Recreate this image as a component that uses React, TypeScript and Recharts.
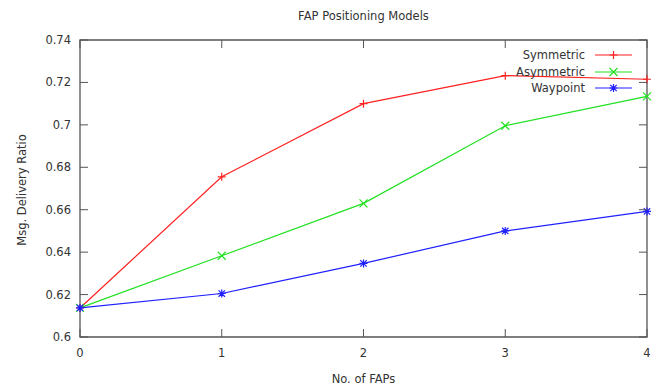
import { LineChart, Line, XAxis, YAxis, ReferenceArea, Legend, Label } from "recharts";

const fapCounts = [0, 1, 2, 3, 4];
const symmetric = [0.6137, 0.6755, 0.7100, 0.7232, 0.7215];
const asymmetric = [0.6137, 0.6383, 0.6630, 0.6996, 0.7134];
const waypoint = [0.6137, 0.6205, 0.6347, 0.6500, 0.6592];
const xTicks = [0, 1, 2, 3, 4];
const yTicks = [0.6, 0.62, 0.64, 0.66, 0.68, 0.7, 0.72, 0.74];

const W = 661;
const H = 390;
const PLOT_LEFT = 80;
const PLOT_RIGHT = 647;
const PLOT_TOP = 40;
const PLOT_BOTTOM = 337;
const TICK_LEN = 8;
const FONT = "'DejaVu Sans', Verdana, sans-serif";
const FS = 11.5;
const TEXT = "#333";
const FRAME = "#555";

const series = [
  { key: "symmetric", name: "Symmetric", color: "#ff2020", marker: "plus" },
  { key: "asymmetric", name: "Asymmetric", color: "#22e022", marker: "cross" },
  { key: "waypoint", name: "Waypoint", color: "#2020ff", marker: "star" },
];

const data = fapCounts.map((n, i) => ({
  n,
  symmetric: symmetric[i],
  asymmetric: asymmetric[i],
  waypoint: waypoint[i],
}));

function markerPath(kind: string, cx: number, cy: number) {
  const s = 4;
  const d = 3.2;
  const plus = `M${cx - s},${cy}H${cx + s}M${cx},${cy - s}V${cy + s}`;
  const cross = `M${cx - d},${cy - d}L${cx + d},${cy + d}M${cx - d},${cy + d}L${cx + d},${cy - d}`;
  if (kind === "plus") return plus;
  if (kind === "cross") return `M${cx - 4},${cy - 4}L${cx + 4},${cy + 4}M${cx - 4},${cy + 4}L${cx + 4},${cy - 4}`;
  return plus + cross;
}

function makeDot(kind: string, color: string) {
  return (p: any) => {
    if (p.cx == null || p.cy == null) return <g key={p.key} />;
    return <path key={p.key} d={markerPath(kind, p.cx, p.cy)} stroke={color} strokeWidth={1.2} fill="none" />;
  };
}

const XTick = (p: any) => {
  const { x, y, payload } = p;
  return (
    <g>
      <text x={x} y={y} dy="0.71em" textAnchor="middle" fontSize={FS} fill={TEXT} fontFamily={FONT}>
        {payload.value}
      </text>
      <line x1={x} x2={x} y1={PLOT_BOTTOM} y2={PLOT_BOTTOM - TICK_LEN} stroke={FRAME} />
      <line x1={x} x2={x} y1={PLOT_TOP} y2={PLOT_TOP + TICK_LEN} stroke={FRAME} />
    </g>
  );
};

const YTick = (p: any) => {
  const { x, y, payload } = p;
  return (
    <g>
      <text x={x} y={y} dy="0.35em" textAnchor="end" fontSize={FS} fill={TEXT} fontFamily={FONT}>
        {payload.value}
      </text>
      <line x1={PLOT_LEFT} x2={PLOT_LEFT + TICK_LEN} y1={y} y2={y} stroke={FRAME} />
      <line x1={PLOT_RIGHT - TICK_LEN} x2={PLOT_RIGHT} y1={y} y2={y} stroke={FRAME} />
    </g>
  );
};

const LegendBox = () => (
  <div style={{ fontFamily: FONT, fontSize: FS, color: TEXT }}>
    {series.map((s) => (
      <div key={s.key} style={{ display: "flex", justifyContent: "flex-end", alignItems: "center", height: 16.6 }}>
        <span>{s.name}</span>
        <svg width={50} height={14} style={{ display: "block" }}>
          <line x1={10} x2={47} y1={7} y2={7} stroke={s.color} strokeWidth={1.2} />
          <path d={markerPath(s.marker, 28.5, 7)} stroke={s.color} strokeWidth={1.2} fill="none" />
        </svg>
      </div>
    ))}
  </div>
);

export default function App() {
  return (
    <div style={{ position: "absolute", left: 0, top: 0, width: W, height: H, background: "#fff", fontFamily: FONT }}>
      <div
        style={{
          position: "absolute",
          top: 9,
          left: PLOT_LEFT,
          width: PLOT_RIGHT - PLOT_LEFT,
          textAlign: "center",
          fontSize: FS,
          color: TEXT,
        }}
      >
        FAP Positioning Models
      </div>
      <LineChart
        width={W}
        height={H}
        data={data}
        margin={{ top: PLOT_TOP, right: W - PLOT_RIGHT, bottom: 0, left: 0 }}
      >
        <XAxis
          dataKey="n"
          type="number"
          domain={[0, 4]}
          ticks={xTicks}
          height={H - PLOT_BOTTOM}
          axisLine={false}
          tickLine={false}
          tickSize={0}
          tickMargin={12}
          tick={<XTick />}
          interval={0}
        >
          <Label
            content={() => (
              <text x={(PLOT_LEFT + PLOT_RIGHT) / 2} y={379} dy="0.35em" textAnchor="middle" fontSize={FS} fill={TEXT} fontFamily={FONT}>
                No. of FAPs
              </text>
            )}
          />
        </XAxis>
        <YAxis
          type="number"
          domain={[0.6, 0.74]}
          ticks={yTicks}
          width={PLOT_LEFT}
          axisLine={false}
          tickLine={false}
          tickSize={0}
          tickMargin={9}
          tick={<YTick />}
          interval={0}
        >
          <Label
            content={() => (
              <text
                x={22}
                y={190}
                dy="0.35em"
                textAnchor="middle"
                fontSize={FS}
                fill={TEXT}
                fontFamily={FONT}
                transform="rotate(-90 22 190)"
              >
                Msg. Delivery Ratio
              </text>
            )}
          />
        </YAxis>
        <ReferenceArea x1={0} x2={4} y1={0.6} y2={0.74} stroke={FRAME} strokeWidth={1.3} fill="none" fillOpacity={0} />
        {series.map((s) => (
          <Line
            key={s.key}
            dataKey={s.key}
            name={s.name}
            stroke={s.color}
            strokeWidth={1.2}
            dot={makeDot(s.marker, s.color)}
            activeDot={false}
            isAnimationActive={false}
          />
        ))}
        <Legend
          layout="vertical"
          verticalAlign="middle"
          align="center"
          content={<LegendBox />}
          wrapperStyle={{ top: 47, left: 465, width: 170 }}
        />
      </LineChart>
    </div>
  );
}
